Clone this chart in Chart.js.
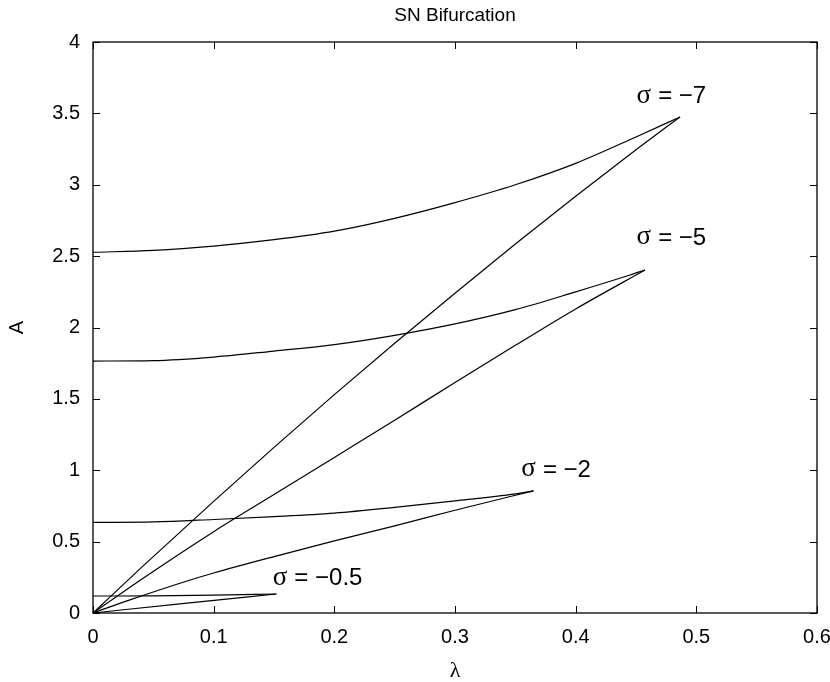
<!DOCTYPE html>
<html>
<head>
<meta charset="utf-8">
<title>SN Bifurcation</title>
<script src="https://cdn.jsdelivr.net/npm/chart.js@4.4.0/dist/chart.umd.min.js"></script>
<style>
  html, body { margin: 0; padding: 0; background: #fff; }
  #wrap { width: 830px; height: 682px; }
</style>
</head>
<body>
<div id="wrap"><canvas id="snChart" width="830" height="682"></canvas></div>
<script>
// Upper branch: from lambda = 0 out to the fold point
// Lower branch: from the origin out to the same fold point
const lamS7Up = [0, 0.05, 0.1, 0.15, 0.2, 0.25, 0.3, 0.35, 0.4, 0.45, 0.4865];
const ampS7Up = [2.527, 2.54, 2.57, 2.615, 2.675, 2.765, 2.875, 3.0, 3.15, 3.335, 3.475];
const lamS7Lo = [0, 0.04, 0.1, 0.15, 0.2, 0.25, 0.3, 0.35, 0.4, 0.45, 0.4865];
const ampS7Lo = [0, 0.318, 0.782, 1.16, 1.53, 1.89, 2.24, 2.585, 2.92, 3.245, 3.475];

const lamS5Up = [0, 0.05, 0.1, 0.15, 0.2, 0.25, 0.3, 0.35, 0.4, 0.445, 0.4575];
const ampS5Up = [1.765, 1.768, 1.793, 1.835, 1.88, 1.945, 2.025, 2.125, 2.25, 2.368, 2.403];
const lamS5Lo = [0, 0.04, 0.1, 0.15, 0.2, 0.25, 0.3, 0.35, 0.4, 0.4575];
const ampS5Lo = [0, 0.235, 0.57, 0.83, 1.09, 1.35, 1.615, 1.875, 2.13, 2.403];

const lamS2Up = [0, 0.05, 0.1, 0.15, 0.2, 0.25, 0.3, 0.35, 0.365];
const ampS2Up = [0.635, 0.638, 0.655, 0.675, 0.7, 0.74, 0.785, 0.835, 0.856];
const lamS2Lo = [0, 0.03, 0.076, 0.1, 0.15, 0.2, 0.25, 0.3, 0.365];
const ampS2Lo = [0, 0.09, 0.219, 0.28, 0.395, 0.505, 0.61, 0.72, 0.856];

const lamS05Up = [0, 0.05, 0.1, 0.152];
const ampS05Up = [0.119, 0.12, 0.125, 0.133];
const lamS05Lo = [0, 0.076, 0.152];
const ampS05Lo = [0, 0.068, 0.133];

const sigmas = [-7, -5, -2, -0.5];
// where each sigma tag sits (left edge, vertical middle), in data units
const tagLam = [0.4505, 0.4505, 0.355, 0.149];
const tagAmp = [3.617, 2.627, 1.0, 0.24];

const xTicks = [0, 0.1, 0.2, 0.3, 0.4, 0.5, 0.6];
const yTicks = [0, 0.5, 1, 1.5, 2, 2.5, 3, 3.5, 4];

const chartTitle = 'SN Bifurcation';

const toPoints = (xs, ys) => xs.map((v, i) => ({ x: v, y: ys[i] }));

const branches = [
  toPoints(lamS7Up, ampS7Up), toPoints(lamS7Lo, ampS7Lo),
  toPoints(lamS5Up, ampS5Up), toPoints(lamS5Lo, ampS5Lo),
  toPoints(lamS2Up, ampS2Up), toPoints(lamS2Lo, ampS2Lo),
  toPoints(lamS05Up, ampS05Up), toPoints(lamS05Lo, ampS05Lo)
];

// box round the plot, inward tick marks on all four sides, title over the plot centre
const frameTicks = {
  id: 'frameTicks',
  afterDraw(chart) {
    const { ctx, chartArea: a, scales: { x, y } } = chart;
    const len = 7;
    ctx.save();
    ctx.strokeStyle = '#000';
    ctx.lineWidth = 1.3;
    ctx.strokeRect(a.left, a.top, a.right - a.left, a.bottom - a.top);
    ctx.lineWidth = 1;
    ctx.beginPath();
    xTicks.forEach(v => {
      const px = Math.round(x.getPixelForValue(v)) + 0.5;
      ctx.moveTo(px, a.bottom); ctx.lineTo(px, a.bottom - len);
      ctx.moveTo(px, a.top); ctx.lineTo(px, a.top + len);
    });
    yTicks.forEach(v => {
      const py = Math.round(y.getPixelForValue(v)) + 0.5;
      ctx.moveTo(a.left, py); ctx.lineTo(a.left + len, py);
      ctx.moveTo(a.right, py); ctx.lineTo(a.right - len, py);
    });
    ctx.stroke();

    ctx.fillStyle = '#000';
    ctx.font = '19px "Liberation Sans"';
    ctx.textAlign = 'center';
    ctx.textBaseline = 'middle';
    ctx.fillText(chartTitle, (a.left + a.right) / 2, 16);
    ctx.restore();
  }
};

// "sigma = value" tags next to each fold
const sigmaTags = {
  id: 'sigmaTags',
  afterDatasetsDraw(chart) {
    const { ctx, scales: { x, y } } = chart;
    ctx.save();
    ctx.fillStyle = '#000';
    ctx.textBaseline = 'middle';
    ctx.textAlign = 'left';
    sigmas.forEach((s, i) => {
      const px = x.getPixelForValue(tagLam[i]);
      const py = y.getPixelForValue(tagAmp[i]);
      ctx.font = '27px "Liberation Serif"';
      ctx.fillText('σ', px, py - 1);
      const w = ctx.measureText('σ').width;
      ctx.font = '24px "Liberation Sans"';
      ctx.fillText('= \u2212' + Math.abs(s), px + w + 7, py);
    });
    ctx.restore();
  }
};

new Chart(document.getElementById('snChart'), {
  type: 'scatter',
  data: {
    datasets: branches.map((pts, i) => ({
      label: 'sigma ' + sigmas[i >> 1] + (i % 2 ? ' lower' : ' upper'),
      data: pts,
      showLine: true,
      borderColor: '#000',
      borderWidth: 1.2,
      pointRadius: 0,
      cubicInterpolationMode: 'monotone',
      clip: 3
    }))
  },
  options: {
    responsive: false,
    animation: false,
    events: [],
    layout: { padding: { left: 0, right: 0, top: 42, bottom: 0 } },
    plugins: {
      legend: { display: false },
      tooltip: { enabled: false },
      title: { display: false }
    },
    scales: {
      x: {
        type: 'linear',
        min: 0,
        max: 0.6,
        afterBuildTicks: s => { s.ticks = xTicks.map(v => ({ value: v })); },
        afterFit: s => { s.height = 69; s.paddingRight = 13; s.paddingLeft = 0; },
        grid: { display: false, drawTicks: false },
        border: { display: false },
        ticks: {
          color: '#000',
          padding: 12,
          font: { family: '"Liberation Sans"', size: 20 },
          callback: v => String(v)
        },
        title: {
          display: true,
          text: 'λ',
          color: '#000',
          font: { family: '"Liberation Serif"', size: 22, lineHeight: 1 },
          padding: { top: 0, bottom: 0 }
        }
      },
      y: {
        type: 'linear',
        min: 0,
        max: 4,
        afterBuildTicks: s => { s.ticks = yTicks.map(v => ({ value: v })); },
        afterFit: s => { s.width = 93; s.paddingTop = 0; s.paddingBottom = 0; },
        grid: { display: false, drawTicks: false },
        border: { display: false },
        ticks: {
          color: '#000',
          padding: 13,
          font: { family: '"Liberation Sans"', size: 20 },
          callback: v => String(v)
        },
        title: {
          display: true,
          text: 'A',
          color: '#000',
          font: { family: '"Liberation Sans"', size: 20, lineHeight: 1 },
          padding: { top: 7, bottom: 0 }
        }
      }
    }
  },
  plugins: [frameTicks, sigmaTags]
});
</script>
</body>
</html>
